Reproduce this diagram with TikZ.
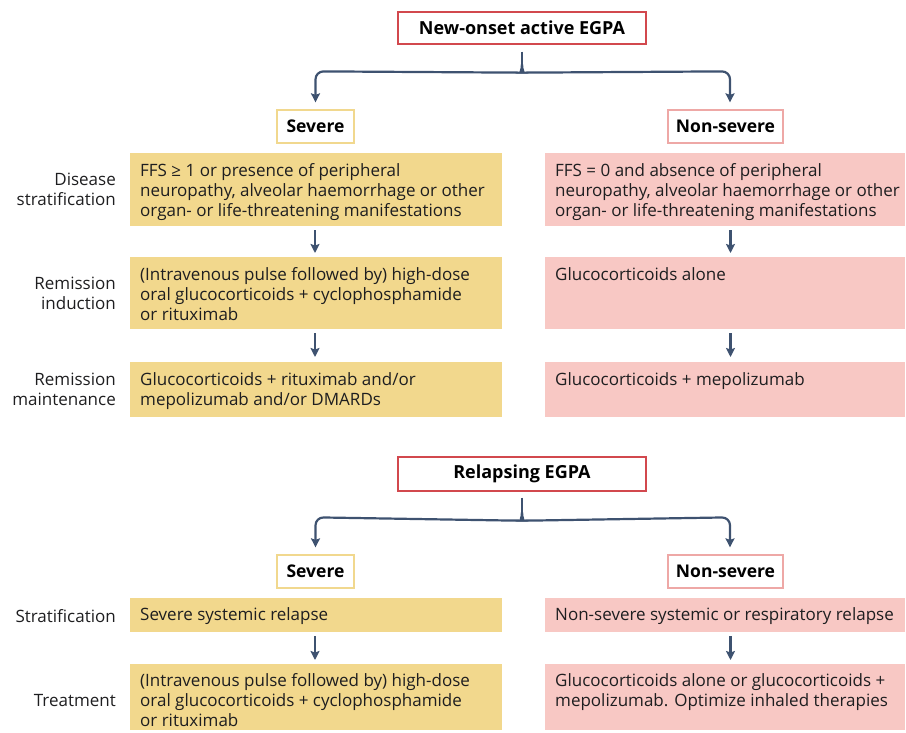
\documentclass[tikz,border=0pt]{standalone}
\usepackage{fontspec}
\setmainfont{Open Sans}
\usetikzlibrary{arrows.meta,calc}
\definecolor{ylw}{RGB}{242,216,141}
\definecolor{pnk}{RGB}{248,200,196}
\definecolor{ylwb}{RGB}{241,216,142}
\definecolor{pnkb}{RGB}{238,168,166}
\definecolor{redb}{RGB}{210,72,78}
\definecolor{arrc}{RGB}{62,82,112}
\definecolor{ink}{RGB}{30,30,32}
\tikzset{
  fbox/.style={anchor=north west, inner sep=0pt, outer sep=0pt},
  ybox/.style={fbox, fill=ylw, minimum width=372pt},
  pbox/.style={fbox, fill=pnk, minimum width=360pt},
  bodytxt/.style={anchor=north west, inner sep=0pt, align=left, text=ink,
    font=\fontsize{17}{20}\selectfont},
  lbl/.style={anchor=east, inner sep=0pt, align=right, text=ink,
    font=\fontsize{17}{20}\selectfont},
  hdr/.style={draw=redb, line width=1.2pt, fill=white, minimum width=248pt,
    text=black, font=\fontsize{18}{20}\selectfont\bfseries},
  sevbox/.style={draw=ylwb, line width=1.3pt, fill=white, minimum width=77pt,
    minimum height=33pt, text=black, font=\fontsize{17.5}{20}\selectfont\bfseries},
  nsevbox/.style={draw=pnkb, line width=1.3pt, fill=white, minimum width=115pt,
    minimum height=33pt, text=black, font=\fontsize{17.5}{20}\selectfont\bfseries},
  conn/.style={draw=arrc, line width=2.2pt},
  arr/.style={conn, -{Stealth[width=9pt,length=9pt,inset=1.5pt]}},
}
\begin{document}
\begin{tikzpicture}[x=1pt,y=-1pt]
\useasboundingbox (0,0) rectangle (906,732);

% ---------- New-onset ----------
\node[hdr, minimum height=32pt] (top) at (522,28) {New-onset active EGPA};
\node[sevbox] (sev1) at (315.5,126.5) {Severe};
\node[nsevbox] (nsev1) at (725.5,126.5) {Non-severe};

\node[ybox, minimum height=73pt] (L1) at (130,153) {};
\node[ybox, minimum height=72pt] (L2) at (130,257) {};
\node[ybox, minimum height=55pt] (L3) at (130,362) {};
\node[pbox, minimum height=73pt] (R1) at (545,153) {};
\node[pbox, minimum height=72pt] (R2) at (545,257) {};
\node[pbox, minimum height=55pt] (R3) at (545,362) {};

\node[bodytxt] (tL1) at ($(L1.north west)+(10,10.5)$) {FFS ≥ 1 or presence of peripheral\\neuropathy, alveolar haemorrhage or other\\organ- or life-threatening manifestations};
\node[bodytxt] (tL2) at ($(L2.north west)+(10,10.5)$) {(Intravenous pulse followed by) high-dose\\oral glucocorticoids + cyclophosphamide\\or rituximab};
\node[bodytxt] (tL3) at ($(L3.north west)+(10,10.5)$) {Glucocorticoids + rituximab and/or\\mepolizumab and/or DMARDs};
\node[bodytxt] (tR1) at ($(R1.north west)+(10,10.5)$) {FFS = 0 and absence of peripheral\\neuropathy, alveolar haemorrhage or other\\organ- or life-threatening manifestations};
\node[bodytxt] (tR2) at ($(R2.north west)+(10,10.5)$) {Glucocorticoids alone};
\node[bodytxt] (tR3) at ($(R3.north west)+(10,10.5)$) {Glucocorticoids + mepolizumab};

\node[lbl] (lab1) at ($(L1.west)+(-14,0)$) {Disease\\stratification};
\node[lbl] (lab2) at ($(L2.west)+(-14,0)$) {Remission\\induction};
\node[lbl] (lab3) at ($(L3.west)+(-14,0)$) {Remission\\maintenance};

% bracket 1
\coordinate (k1) at ($(top.south)+(0,20)$);
\draw[conn] ($(top.south)+(0,7)$) -- (k1);
\draw[arr, rounded corners=8pt] (k1) .. controls +(0,6) and +(5,0) .. ($(k1)+(-8,8)$)
   -- ($(sev1.north)+(0,-38)$) -- ($(sev1.north)+(0,-7)$);
\draw[arr, rounded corners=8pt] (k1) .. controls +(0,6) and +(-5,0) .. ($(k1)+(8,8)$)
   -- ($(nsev1.north)+(4.5,-38)$) -- ($(nsev1.north)+(4.5,-7)$);

\draw[arr] ($(L1.south)+(-1,4)$) -- ($(L2.north)+(-1,-4)$);
\draw[arr] ($(L2.south)+(-1,4)$) -- ($(L3.north)+(-1,-5)$);
\draw[arr] ($(R1.south)+(5.5,4)$) -- ($(R2.north)+(5.5,-4)$);
\draw[arr] ($(R2.south)+(5.5,4)$) -- ($(R3.north)+(5.5,-5)$);

% ---------- Relapsing ----------
\node[hdr, minimum height=34pt] (rel) at (522,474) {Relapsing EGPA};
\node[sevbox] (sev2) at (315.5,571.5) {Severe};
\node[nsevbox] (nsev2) at (725.5,571.5) {Non-severe};

\node[ybox, minimum height=34pt] (L4) at (130,598) {};
\node[ybox, minimum height=66pt] (L5) at (130,664) {};
\node[pbox, minimum height=34pt] (R4) at (545,598) {};
\node[pbox, minimum height=66pt] (R5) at (545,664) {};

\node[bodytxt] (tL4) at ($(L4.north west)+(10,9.5)$) {Severe systemic relapse};
\node[bodytxt] (tL5) at ($(L5.north west)+(10,9.5)$) {(Intravenous pulse followed by) high-dose\\oral glucocorticoids + cyclophosphamide\\or rituximab};
\node[bodytxt] (tR4) at ($(R4.north west)+(10,9.5)$) {Non-severe systemic or respiratory relapse};
\node[bodytxt] (tR5) at ($(R5.north west)+(10,9.5)$) {Glucocorticoids alone or glucocorticoids +\\mepolizumab. Optimize inhaled therapies};

\node[lbl] (lab4) at ($(L4.west)+(-14,1)$) {Stratification};
\node[lbl] (lab5) at ($(L5.west)+(-14,4)$) {Treatment};

% bracket 2
\coordinate (k2) at ($(rel.south)+(0,21)$);
\draw[conn] ($(rel.south)+(0,6)$) -- (k2);
\draw[arr, rounded corners=8pt] (k2) .. controls +(0,6) and +(5,0) .. ($(k2)+(-8,8)$)
   -- ($(sev2.north)+(0,-37)$) -- ($(sev2.north)+(0,-7)$);
\draw[arr, rounded corners=8pt] (k2) .. controls +(0,6) and +(-5,0) .. ($(k2)+(8,8)$)
   -- ($(nsev2.north)+(4.5,-37)$) -- ($(nsev2.north)+(4.5,-7)$);

\draw[arr] ($(L4.south)+(-1,4)$) -- ($(L5.north)+(-1,-4)$);
\draw[arr] ($(R4.south)+(5.5,4)$) -- ($(R5.north)+(5.5,-4)$);
\end{tikzpicture}
\end{document}
